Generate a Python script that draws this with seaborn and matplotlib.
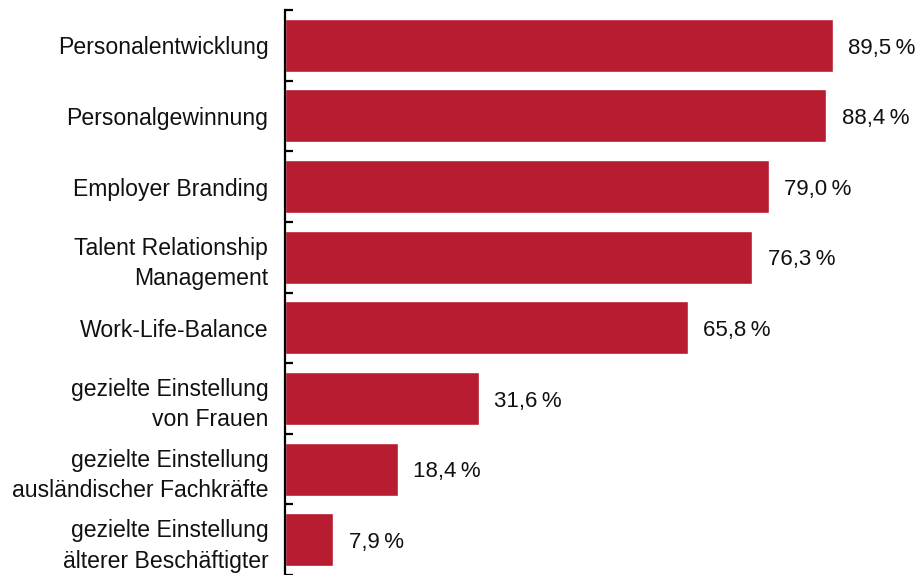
import matplotlib
matplotlib.use("Agg")
import matplotlib.pyplot as plt
import seaborn as sns
import numpy as np
import pandas as pd

categories = [
    "Personalentwicklung",
    "Personalgewinnung",
    "Employer Branding",
    "Talent Relationship\nManagement",
    "Work-Life-Balance",
    "gezielte Einstellung\nvon Frauen",
    "gezielte Einstellung\nausländischer Fachkräfte",
    "gezielte Einstellung\nälterer Beschäftigter",
]
values = [89.5, 88.4, 79.0, 76.3, 65.8, 31.6, 18.4, 7.9]
value_labels = ["89,5\u2009%", "88,4\u2009%", "79,0\u2009%", "76,3\u2009%",
                "65,8\u2009%", "31,6\u2009%", "18,4\u2009%", "7,9\u2009%"]

sns.set_theme(style="white")
plt.rcParams["font.family"] = ["Liberation Sans", "DejaVu Sans"]

df = pd.DataFrame({"Bereich": categories, "Anteil": values})

fig = plt.figure(figsize=(9.17, 5.75), dpi=100)
ax = fig.add_axes([285 / 917, 0.0, 1 - 285 / 917, 1 - 10 / 575])

sns.barplot(data=df, x="Anteil", y="Bereich", color="#B81C30",
            saturation=1, width=0.75, orient="h", ax=ax)

ax.set_xlim(0, 103.2)
ax.set_ylim(len(categories) - 0.5, -0.5)

for s in ["top", "right", "bottom"]:
    ax.spines[s].set_visible(False)
ax.spines["left"].set_linewidth(1.6)
ax.spines["left"].set_color("black")

ax.set_xticks([])
ax.set_xlabel("")
ax.set_ylabel("")

# category labels at bar centres, ticks at category boundaries
ax.set_yticks(np.arange(len(categories)))
ax.set_yticklabels(categories, fontsize=16.6, color="#111111",
                   linespacing=1.42, ha="right")
ax.tick_params(axis="y", which="major", left=True, length=0, pad=12)
ax.set_yticks(np.arange(len(categories) + 1) - 0.5, minor=True)
ax.tick_params(axis="y", which="minor", left=True, length=6, width=1.6,
               direction="in", color="black")

labels = ax.bar_label(ax.containers[0], labels=value_labels, padding=11,
                      fontsize=16, color="#111111")
for t in labels:
    t.xyann = (11, -2)

fig.savefig("out.png", dpi=100)
